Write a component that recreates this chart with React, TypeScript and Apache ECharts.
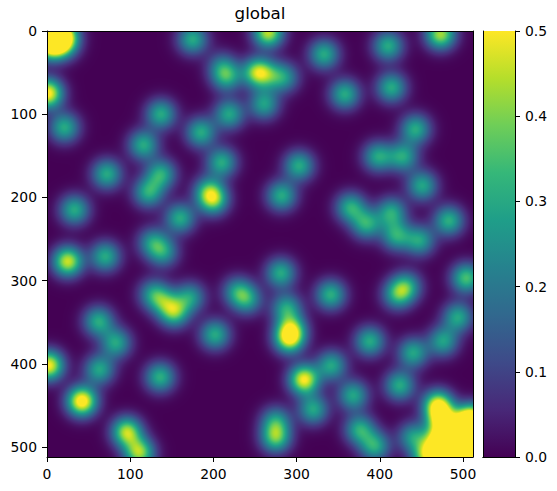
import React, { useEffect, useRef } from "react";
import * as echarts from "echarts";

const viridis = [
  [68, 1, 84], [72, 40, 120], [62, 74, 137], [49, 104, 142], [38, 130, 142],
  [31, 158, 137], [53, 183, 121], [110, 206, 88], [181, 222, 43], [253, 231, 37],
];
const axisTicks = [0, 100, 200, 300, 400, 500];
const colorbarMax = 0.5;

// x, y, strength of every bright spot
const spots: number[][] = [
  [4, 4, 0.4], [20, 4, 0.38], [4, 18, 0.4], [20, 16, 0.28], [175, 10, 0.3], [216, 55, 0.28], [210, 42, 0.16],
  [253, 50, 0.42], [268, 53, 0.14], [285, 56, 0.24], [1, 75, 0.52], [21, 116, 0.3], [137, 100, 0.3],
  [219, 100, 0.29], [185, 122, 0.3], [116, 137, 0.3], [210, 158, 0.3], [72, 172, 0.3], [137, 172, 0.3],
  [122, 194, 0.3], [194, 192, 0.25], [200, 203, 0.35], [33, 215, 0.3], [160, 225, 0.3], [127, 254, 0.24], [140, 266, 0.24],
  [266, 2, 0.45], [261, 88, 0.28], [333, 28, 0.3], [410, 18, 0.3], [473, 4, 0.43], [358, 76, 0.3],
  [414, 68, 0.3], [443, 118, 0.3], [398, 151, 0.29], [428, 151, 0.29], [303, 162, 0.3], [451, 186, 0.29],
  [282, 198, 0.3], [365, 212, 0.3], [384, 232, 0.3], [414, 218, 0.29], [420, 246, 0.29], [448, 252, 0.28],
  [483, 228, 0.31], [25, 277, 0.46], [70, 271, 0.3], [128, 316, 0.24], [153, 338, 0.36], [172, 320, 0.26],
  [140, 325, 0.2], [229, 313, 0.24], [241, 323, 0.24], [62, 349, 0.3], [83, 375, 0.29], [202, 365, 0.3],
  [63, 407, 0.29], [2, 402, 0.5], [136, 416, 0.31], [42, 445, 0.55], [96, 482, 0.44], [111, 507, 0.42],
  [281, 291, 0.3], [341, 317, 0.31], [421, 317, 0.27], [432, 307, 0.27], [504, 297, 0.35], [288, 333, 0.28], [291, 370, 0.42],
  [294, 358, 0.3], [388, 373, 0.3], [494, 344, 0.29], [476, 373, 0.28], [440, 387, 0.29], [342, 402, 0.29],
  [309, 419, 0.5], [424, 426, 0.3], [368, 438, 0.29], [320, 455, 0.29], [275, 489, 0.35], [275, 469, 0.25],
  [376, 479, 0.3], [394, 499, 0.3], [440, 488, 0.26], [470, 450, 0.5], [475, 470, 0.45], [503, 472, 0.4],
  [472, 495, 0.5], [490, 498, 0.7], [457, 512, 0.42], [510, 500, 0.7], [512, 466, 0.45],
];

const SIGMA = 12.5;

function colorAt(v: number): number[] {
  const t = Math.min(1, Math.max(0, v / colorbarMax)) * (viridis.length - 1);
  const i = Math.min(viridis.length - 2, Math.floor(t));
  const f = t - i;
  return viridis[i].map((c, k) => c + (viridis[i + 1][k] - c) * f);
}

// Like imshow: the spots, placed through the axes, are summed under a soft kernel
// into one picture, which the colour scale then maps to viridis.
function fieldImage(points: number[][], w: number, h: number): string {
  const sum = new Float32Array(w * h);
  for (const [px, py, peak, sigma] of points) {
    const reach = sigma * 4;
    const x0 = Math.max(0, Math.floor(px - reach));
    const x1 = Math.min(w - 1, Math.ceil(px + reach));
    const y0 = Math.max(0, Math.floor(py - reach));
    const y1 = Math.min(h - 1, Math.ceil(py + reach));
    for (let y = y0; y <= y1; y++) {
      for (let x = x0; x <= x1; x++) {
        const d2 = (x + 0.5 - px) ** 2 + (y + 0.5 - py) ** 2;
        sum[y * w + x] += peak * Math.exp(-d2 / (2 * sigma * sigma));
      }
    }
  }
  const canvas = document.createElement("canvas");
  canvas.width = w;
  canvas.height = h;
  const ctx = canvas.getContext("2d")!;
  const img = ctx.createImageData(w, h);
  for (let i = 0; i < sum.length; i++) {
    const c = colorAt(sum[i]);
    img.data[i * 4] = c[0];
    img.data[i * 4 + 1] = c[1];
    img.data[i * 4 + 2] = c[2];
    img.data[i * 4 + 3] = 255;
  }
  ctx.putImageData(img, 0, 0);
  return canvas.toDataURL("image/png");
}

const black = { lineStyle: { color: "#000", width: 1 } };
const labelFont = { color: "#000", fontFamily: "DejaVu Sans", fontSize: 13.9 };

export default function App() {
  const ref = useRef<HTMLDivElement>(null);
  useEffect(() => {
    const chart = echarts.init(ref.current!, null, { renderer: "svg" });
    const mainAxis = { type: "value", min: 0, max: 512, gridIndex: 0, z: 5, axisLine: { show: true, onZero: false, ...black }, splitLine: { show: false } };
    const frame = { axisTick: { show: false }, axisLabel: { show: false } };
    const ticks = {
      axisTick: { show: true, length: 5, customValues: axisTicks, ...black },
      axisLabel: { ...labelFont, margin: 10, customValues: axisTicks },
    };
    chart.setOption({
      animation: false,
      backgroundColor: "#fff",
      title: {
        text: "global", left: 255, top: -1, textAlign: "center",
        textStyle: { color: "#000", fontFamily: "DejaVu Sans", fontSize: 16.7, fontWeight: "normal" },
      },
      grid: [
        { left: 47, top: 31, width: 426, height: 426, show: true, backgroundColor: "#440154", borderWidth: 0 },
        { left: 483, top: 31, width: 32, height: 426, show: false },
      ],
      xAxis: [
        { ...mainAxis, position: "bottom", ...ticks },
        { ...mainAxis, position: "top", ...frame },
        { type: "category", data: ["c"], gridIndex: 1, position: "bottom", z: 5, axisLine: { show: true, ...black }, ...frame },
        { type: "category", data: ["c"], gridIndex: 1, position: "top", z: 5, axisLine: { show: true, ...black }, ...frame },
      ],
      yAxis: [
        { ...mainAxis, inverse: true, position: "left", ...ticks },
        { ...mainAxis, inverse: true, position: "right", ...frame },
        {
          type: "value", min: 0, max: colorbarMax, interval: 0.1, gridIndex: 1, position: "right", z: 5,
          axisLine: { show: true, onZero: false, ...black }, splitLine: { show: false },
          axisTick: { show: true, length: 5, ...black },
          axisLabel: { ...labelFont, margin: 10, formatter: (v: number) => v.toFixed(1) },
        },
        {
          type: "value", min: 0, max: colorbarMax, gridIndex: 1, position: "left", z: 5,
          axisLine: { show: true, onZero: false, ...black }, splitLine: { show: false }, ...frame,
        },
      ],
      series: [
        {
          type: "custom",
          clip: true,
          xAxisIndex: 0,
          yAxisIndex: 0,
          coordinateSystem: "cartesian2d",
          encode: { x: 0, y: 1 },
          data: spots,
          renderItem: (params: any, api: any) => {
            if (params.dataIndex !== 0) return null;
            const cs = params.coordSys;
            const sigma = api.size([SIGMA, 0])[0];
            const placed = spots.map(([x, y, peak]) => {
              const [px, py] = api.coord([x, y]);
              return [px - cs.x, py - cs.y, peak, sigma];
            });
            return {
              type: "image",
              style: { image: fieldImage(placed, Math.round(cs.width), Math.round(cs.height)), x: cs.x, y: cs.y, width: cs.width, height: cs.height },
            };
          },
        },
        {
          type: "bar",
          xAxisIndex: 2,
          yAxisIndex: 2,
          barWidth: "100%",
          data: [colorbarMax],
          itemStyle: {
            color: new echarts.graphic.LinearGradient(0, 1, 0, 0,
              viridis.map((c, i) => ({ offset: i / (viridis.length - 1), color: `rgb(${c.join(",")})` }))),
          },
        },
      ],
    });
    return () => chart.dispose();
  }, []);
  return <div ref={ref} style={{ position: "absolute", left: 0, top: 0, width: 557, height: 491 }} />;
}
